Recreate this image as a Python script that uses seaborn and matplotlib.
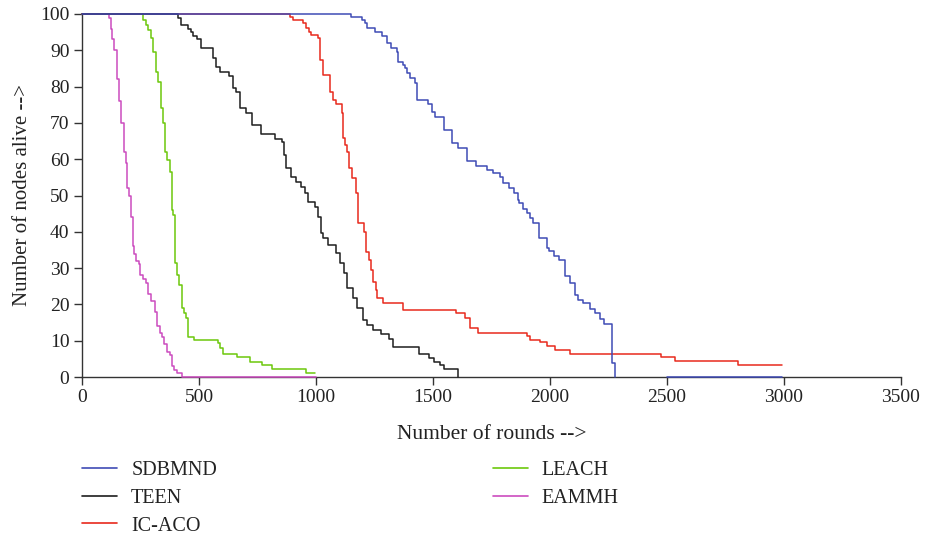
import numpy as np
import pandas as pd
import matplotlib
matplotlib.use("Agg")
import matplotlib.pyplot as plt
from matplotlib.lines import Line2D
import seaborn as sns

# ---------------- data ----------------
sdbmnd_x = [0, 1148, 1195, 1209, 1216, 1252, 1281, 1302, 1319, 1345, 1352, 1370, 1380, 1390, 1401,
            1423, 1433, 1480, 1494, 1509, 1547, 1580, 1608, 1644, 1684, 1732, 1755, 1786, 1801, 1826,
            1846, 1862, 1869, 1886, 1900, 1915, 1929, 1954, 1986, 1997, 2017, 2039, 2064, 2085, 2107,
            2121, 2142, 2173, 2192, 2213, 2232, 2263, 2267, 2277]
sdbmnd_y = [100, 99.3, 98.3, 97.4, 96.2, 95.1, 94.0, 91.9, 90.7, 89.6, 86.9, 85.9, 85.0, 83.7, 82.3,
            80.9, 76.3, 75.2, 73.1, 71.7, 68.1, 64.4, 63.0, 59.5, 58.2, 57.0, 56.1, 55.2, 53.4, 52.0,
            50.8, 48.8, 47.9, 46.3, 45.2, 43.7, 42.4, 38.2, 35.5, 34.6, 33.4, 32.3, 27.7, 25.9, 22.7,
            21.3, 20.4, 18.6, 17.7, 15.9, 14.5, 13.3, 3.9, 0]
sdbmnd_tail_x = [2500, 2990]
sdbmnd_tail_y = [0, 0]

teen_x = [0, 412, 425, 454, 464, 473, 493, 507, 561, 571, 590, 630, 644, 658, 675, 701, 725, 764,
          825, 853, 863, 872, 892, 914, 938, 953, 967, 995, 1010, 1020, 1031, 1052, 1085, 1102, 1119,
          1134, 1160, 1174, 1202, 1219, 1245, 1276, 1313, 1327, 1441, 1485, 1504, 1529, 1546, 1607]
teen_y = [100, 99, 97, 96, 95, 94, 93, 90.5, 88, 85.5, 84, 83, 79.5, 78.4, 74, 72.6, 69.4, 67,
          65.7, 64.8, 61.2, 57.5, 55.2, 53.8, 52.4, 50.6, 48.3, 46.9, 44.2, 39.6, 38.2, 36.4, 34.1,
          31.3, 28.6, 24.4, 21.9, 18.9, 15.7, 14.3, 12.9, 11.8, 10.4, 8.4, 6.2, 5.1, 4.2, 3.3, 2.1, 0]

icaco_x = [0, 889, 903, 943, 957, 971, 977, 1010, 1017, 1031, 1060, 1071, 1085, 1109, 1114, 1124,
           1134, 1142, 1152, 1171, 1181, 1206, 1213, 1227, 1234, 1244, 1256, 1261, 1286, 1371, 1599,
           1635, 1656, 1694, 1900, 1914, 1957, 1986, 2022, 2086, 2475, 2535, 2805, 2990]
icaco_y = [100, 99.3, 98.3, 97.4, 96.1, 95.1, 94.2, 93.3, 87.3, 83.2, 78.6, 76.3, 75.1, 72.6, 65.8,
           63.9, 62.1, 57.5, 54.8, 50.6, 42.4, 40.0, 34.5, 32.2, 29.5, 26.3, 24.0, 21.9, 20.5, 18.5,
           17.6, 16.2, 13.5, 12.1, 11.2, 10.3, 9.6, 8.6, 7.5, 6.4, 5.4, 4.3, 3.2, 3.2]

leach_x = [0, 262, 272, 283, 295, 305, 316, 326, 338, 348, 355, 365, 376, 383, 390, 397, 407, 415,
           426, 436, 444, 454, 480, 583, 590, 604, 661, 718, 768, 811, 956, 996]
leach_y = [100, 98.3, 97.0, 95.6, 93.3, 89.6, 84.1, 81.4, 74.0, 69.9, 62.1, 59.8, 56.6, 46.0, 44.6,
           31.3, 28.1, 25.3, 18.9, 17.5, 16.2, 11.1, 10.2, 9.3, 7.9, 6.2, 5.6, 4.2, 3.3, 2.1, 1.0, 1.0]

eammh_x = [0, 117, 122, 127, 138, 148, 158, 167, 178, 187, 194, 201, 209, 216, 222, 231, 242, 248,
           262, 272, 281, 295, 312, 319, 333, 343, 352, 362, 376, 383, 393, 407, 429, 1000]
eammh_y = [100, 99, 96, 93, 90, 82, 76, 70, 62, 59, 52, 50, 44, 36, 34, 32, 31, 28, 27, 26, 23, 21,
           18, 14, 12, 11, 9, 7, 6, 3, 2, 1, 0, 0]

names = ["SDBMND", "TEEN", "IC-ACO", "LEACH", "EAMMH"]
colors = ["#3f4bb5", "#1e1e1e", "#e8291c", "#6cc80c", "#cc4cbf"]

x_ticks = [0, 500, 1000, 1500, 2000, 2500, 3000, 3500]
y_ticks = [0, 10, 20, 30, 40, 50, 60, 70, 80, 90, 100]

# ---------------- build table ----------------
series = [
    ("SDBMND", "a", sdbmnd_x, sdbmnd_y),
    ("SDBMND", "b", sdbmnd_tail_x, sdbmnd_tail_y),
    ("TEEN", "a", teen_x, teen_y),
    ("IC-ACO", "a", icaco_x, icaco_y),
    ("LEACH", "a", leach_x, leach_y),
    ("EAMMH", "a", eammh_x, eammh_y),
]
frames = []
for name, seg, xs, ys in series:
    frames.append(pd.DataFrame({"round": xs, "alive": ys, "protocol": name, "seg": name + seg}))
df = pd.concat(frames, ignore_index=True)

# ---------------- plot ----------------
sns.set_theme(style="white")
plt.rcParams["font.family"] = ["Liberation Serif", "DejaVu Serif"]
plt.rcParams["text.color"] = "#222222"

fig = plt.figure(figsize=(9.25, 5.38), dpi=100)
ax = fig.add_axes([82 / 925, 1 - 377 / 538, (901 - 82) / 925, (377 - 14) / 538])

palette = dict(zip(names, colors))
# draw in reverse so that SDBMND ends on top like the reference
for name in names[::-1]:
    sub = df[df["protocol"] == name]
    for seg, part in sub.groupby("seg"):
        sns.lineplot(data=part, x="round", y="alive", color=palette[name], ax=ax,
                     estimator=None, sort=False, drawstyle="steps-post",
                     linewidth=1.1, legend=False, zorder=3, clip_on=False)

ax.set_xlim(0, 3500)
ax.set_ylim(0, 100)
ax.set_xticks(x_ticks)
ax.set_yticks(y_ticks)
ax.tick_params(axis="both", direction="out", length=6, width=1.0, color="#333333",
               labelsize=14, labelcolor="#222222", pad=3,
               bottom=True, left=True)
for s in ["top", "right"]:
    ax.spines[s].set_visible(False)
for s in ["left", "bottom"]:
    ax.spines[s].set_color("#333333")
    ax.spines[s].set_linewidth(1.0)

ax.set_xlabel("Number of rounds -->", fontsize=15.5, labelpad=13.5, color="#222222")
ax.set_ylabel("Number of nodes alive -->", fontsize=15, labelpad=6, color="#222222")

handles = [Line2D([0], [0], color=c, lw=1.2) for c in colors]
leg = fig.legend(handles, names, loc="upper left", bbox_to_anchor=(82 / 925, 1 - 460.5 / 538),
                 ncol=2, frameon=False, fontsize=14.5, handlelength=1.74, handletextpad=0.7,
                 columnspacing=13.7, labelspacing=0.44, borderaxespad=0, borderpad=0)

fig.savefig("out.png", dpi=100, facecolor="white")
